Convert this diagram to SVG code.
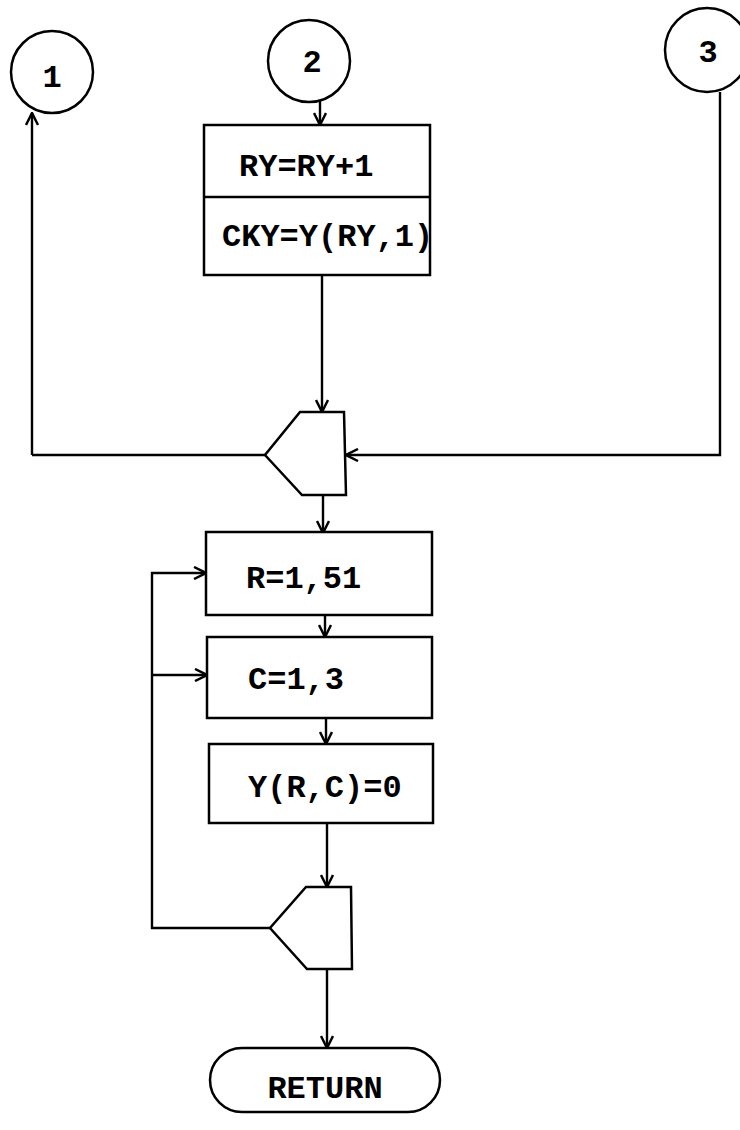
<svg xmlns="http://www.w3.org/2000/svg" width="740" height="1130" viewBox="0 0 740 1130">
<defs>
<marker id="arr" viewBox="0 0 14 14" refX="13" refY="7" markerWidth="14" markerHeight="14" markerUnits="userSpaceOnUse" orient="auto">
<path d="M1,1 L13,7 L1,13" fill="none" stroke="#000" stroke-width="2.5"/>
</marker>
<style>
.s{fill:#fff;stroke:#000;stroke-width:2.5}
.c{fill:none;stroke:#000;stroke-width:2.4}
.t{font-family:"Liberation Mono","Courier New",monospace;font-weight:bold;font-size:32px;fill:#000}
</style>
</defs>
<rect width="740" height="1130" fill="#fff"/>
<g id="connectors">
<path class="c" d="M32,455 L32,113" marker-end="url(#arr)"/>
<line class="c" x1="32" y1="455" x2="265" y2="455"/>
<path class="c" d="M720,92 L720,455 L346,455" marker-end="url(#arr)"/>
<path class="c" d="M320,101 L320,125" marker-end="url(#arr)"/>
<path class="c" d="M322,275 L322,412" marker-end="url(#arr)"/>
<path class="c" d="M323,495 L323,533" marker-end="url(#arr)"/>
<path class="c" d="M325,615 L325,637" marker-end="url(#arr)"/>
<path class="c" d="M326,718 L326,744" marker-end="url(#arr)"/>
<path class="c" d="M327,823 L327,887" marker-end="url(#arr)"/>
<path class="c" d="M327,969 L327,1048" marker-end="url(#arr)"/>
<path class="c" d="M270,928 L152,928 L152,573 L206,573" marker-end="url(#arr)"/>
<path class="c" d="M152,675 L207,675" marker-end="url(#arr)"/>
</g>
<g id="c1"><circle class="s" cx="52" cy="72" r="41"/><text class="t" x="52" y="87" text-anchor="middle">1</text></g>
<g id="c2"><circle class="s" cx="309" cy="61" r="41"/><text class="t" x="312" y="72" text-anchor="middle">2</text></g>
<g id="c3"><circle class="s" cx="707" cy="50" r="42"/><text class="t" x="708" y="62" text-anchor="middle">3</text></g>
<g id="box1">
<rect class="s" x="204" y="125" width="226" height="150"/>
<line class="c" x1="204" y1="197" x2="430" y2="197"/>
<text class="t" x="239" y="176">RY=RY+1</text>
<text class="t" x="222" y="246">CKY=Y(RY,1)</text>
</g>
<g id="merge1"><path class="s" d="M300,412 L344,412 L346,495 L302,495 L265,455 Z"/></g>
<g id="boxR"><rect class="s" x="206" y="532" width="226" height="83"/><text class="t" x="246" y="588">R=1,51</text></g>
<g id="boxC"><rect class="s" x="207" y="637" width="225" height="81"/><text class="t" x="248" y="689">C=1,3</text></g>
<g id="boxY"><rect class="s" x="209" y="744" width="224" height="79"/><text class="t" x="248" y="797">Y(R,C)=0</text></g>
<g id="merge2"><path class="s" d="M306,887 L351,887 L352,969 L307,969 L270,928 Z"/></g>
<g id="ret"><rect class="s" x="210" y="1048" width="230" height="64" rx="32"/><text class="t" x="325" y="1098" text-anchor="middle">RETURN</text></g>
</svg>
